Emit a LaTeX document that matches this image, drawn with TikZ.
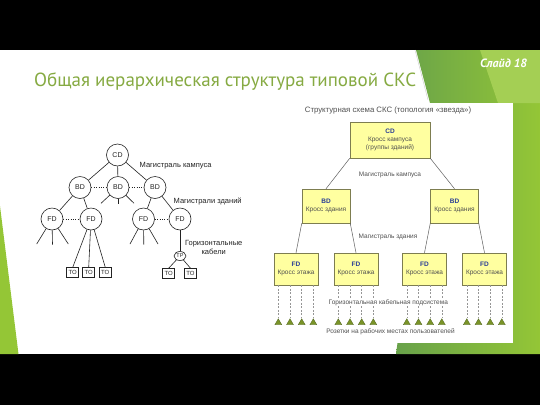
\documentclass[tikz,border=0pt]{standalone}
\usepackage{fontspec}
\setmainfont{Liberation Sans}
\newfontfamily\titlefont{PT Sans}
\usetikzlibrary{shapes.geometric}

\definecolor{tgreen}{RGB}{134,170,66}
\definecolor{dkgreen}{RGB}{104,162,74}
\definecolor{ltgreen}{RGB}{148,198,54}
\definecolor{boxfill}{RGB}{255,255,160}
\definecolor{boxline}{RGB}{125,125,80}
\definecolor{navy}{RGB}{40,60,150}
\definecolor{lbl}{RGB}{80,80,80}
\definecolor{tri}{RGB}{122,148,40}
\definecolor{tridk}{RGB}{80,100,30}
\definecolor{scan}{RGB}{35,35,35}
\definecolor{edgegray}{RGB}{95,95,95}
\definecolor{cablegray}{RGB}{150,150,150}

\begin{document}
\begin{tikzpicture}[x=1pt,y=-1pt,
  tnode/.style={circle, draw=scan, line width=0.6pt, minimum size=22pt, inner sep=0pt,
     font=\fontsize{7}{7}\selectfont, text=scan},
  tobox/.style={rectangle, draw=scan, line width=0.6pt, minimum width=12pt, minimum height=10pt,
     inner sep=0pt, font=\fontsize{6}{6}\selectfont, text=scan},
  tline/.style={draw=scan, line width=0.6pt},
  tdots/.style={draw=scan, line width=0.8pt, dash pattern=on 0.8pt off 1.6pt},
  tlabel/.style={font=\fontsize{7.5}{8.4}\selectfont, text=scan, inner sep=0pt},
  ybox/.style={rectangle, draw=boxline, fill=boxfill, line width=0.5pt, align=center,
     inner sep=0pt, font=\fontsize{6.5}{8}\selectfont, text=lbl},
  yedge/.style={draw=edgegray, line width=0.5pt},
  cable/.style={draw=cablegray, line width=0.5pt, dash pattern=on 2pt off 1.5pt},
  sock/.style={regular polygon, regular polygon sides=3, minimum size=8pt, inner sep=0pt,
     fill=tri, draw=tridk, line width=0.3pt},
  rlabel/.style={font=\fontsize{6.5}{7}\selectfont, text=lbl, inner sep=0.5pt}
]
\useasboundingbox (0,0) rectangle (540,405);
% slide background
\fill[white] (0,50) rectangle (540,354);
\fill[black] (0,0) rectangle (540,50);
\fill[black] (0,354) rectangle (540,405);
% green decoration
\shade[left color=dkgreen, right color=ltgreen] (416,50) -- (540,50) -- (540,354) -- (396,354) -- (430,103) -- cycle;
\fill[ltgreen!85!white] (480,50) -- (540,50) -- (540,103) -- (498,103) -- cycle;
\draw[gray!40, line width=0.4pt] (415,50) -- (428,100);
\fill[ltgreen] (0,206) -- (18.5,354) -- (0,354) -- cycle;
% white panel of right diagram
\fill[white] (268,103) rectangle (513,342.5);

% title
\node[anchor=base west, inner sep=0pt, text=tgreen, font=\titlefont\fontsize{19}{20}\selectfont]
  (title) at (34,86.5) {Общая иерархическая структура типовой СКС};
\node[anchor=base west, inner sep=0pt, text=white, font=\titlefont\bfseries\itshape\fontsize{12}{12}\selectfont]
  (slide) at (480,67.3) {Слайд 18};

% ---------------- left tree ----------------
\node[tnode] (cd) at (117.5,155) {CD};
\node[tnode] (bd1) at (80,187.5) {BD};
\node[tnode] (bd2) at (118,187.5) {BD};
\node[tnode] (bd3) at (155,187.5) {BD};
\node[tnode] (fda) at (52,219) {FD};
\node[tnode] (fdb) at (91,219) {FD};
\node[tnode] (fdc) at (143.5,219) {FD};
\node[tnode] (fdd) at (180,219) {FD};
\node[ellipse, draw=scan, line width=0.6pt, minimum width=12pt, minimum height=9pt, inner sep=0pt,
  font=\fontsize{5.5}{5.5}\selectfont, text=scan] (tp) at (180,256) {TP};
\node[tobox] (toa) at (72.7,272.7) {TO};
\node[tobox] (tob) at (88.7,272.7) {TO};
\node[tobox] (toc) at (105.3,272.7) {TO};
\node[tobox] (tod) at (168.7,273.5) {TO};
\node[tobox] (toe) at (190.5,273.5) {TO};

\draw[tline] (cd) -- (bd1);
\draw[tline] (cd) -- (bd2);
\draw[tline] (cd) -- (bd3);
\draw[tline] (bd1) -- (fda);
\draw[tline] (bd1) -- (fdb);
\draw[tline] (bd3) -- (fdc);
\draw[tline] (bd3) -- (fdd);
\draw[tdots] (bd1.east) -- (bd2.west);
\draw[tdots] (bd2.east) -- (bd3.west);
\draw[tdots] (fda.east) -- (fdb.west);
\draw[tdots] (fdc.east) -- (fdd.west);
\draw[tline] (fdb) -- (toa.north);
\draw[tline] (fdb) -- (tob.north);
\draw[tline] (fdb) -- (toc.north);
\draw[tline] (fdd) -- (tp);
\draw[tline] (tp) -- (tod.north);
\draw[tline] (tp) -- (toe.north);
% stubs
\coordinate (sa1) at (36.7,244); \coordinate (sa2) at (52.5,244.5); \coordinate (sa3) at (68.3,244);
\coordinate (sb1) at (101,203.3); \coordinate (sb2) at (118,204); \coordinate (sb3) at (134,203.3);
\coordinate (sc1) at (130,244); \coordinate (sc2) at (143.8,244.5); \coordinate (sc3) at (158,244);
\foreach \s in {sa1,sa2,sa3} \draw[tline] (fda) -- (\s);
\foreach \s in {sb1,sb2,sb3} \draw[tline] (bd2) -- (\s);
\foreach \s in {sc1,sc2,sc3} \draw[tline] (fdc) -- (\s);

\node[tlabel, anchor=west] (lk) at (139.5,166) {Магистраль кампуса};
\node[tlabel, anchor=west] (lz) at (173.5,201) {Магистрали зданий};
\node[tlabel, align=center] (lh) at (213.7,247.5) {Горизонтальные\\кабели};

% ---------------- right diagram ----------------
\node[rlabel, font=\fontsize{7.8}{8}\selectfont] (rt) at (388,110) {Структурная схема СКС (топология «звезда»)};

\node[ybox, minimum width=80pt, minimum height=36pt] (rcd) at (390,140)
  {{\color{navy}\bfseries CD}\\Кросс кампуса\\(группы зданий)};
\node[ybox, minimum width=48pt, minimum height=34pt] (rbd1) at (326,206)
  {{\color{navy}\bfseries BD}\\Кросс здания};
\node[ybox, minimum width=48pt, minimum height=34pt] (rbd2) at (454.5,206)
  {{\color{navy}\bfseries BD}\\Кросс здания};
\foreach \n/\x in {rfd1/296,rfd2/356,rfd3/424.5,rfd4/484.5}
  \node[ybox, minimum width=44pt, minimum height=32pt] (\n) at (\x,269)
    {{\color{navy}\bfseries FD}\\Кросс этажа};

\draw[yedge] (rcd.south west) -- (rbd1.north);
\draw[yedge] (rcd.south east) -- (rbd2.north);
\draw[yedge] (rbd1.south west) -- (rfd1.north);
\draw[yedge] (rbd1.south east) -- (rfd2.north);
\draw[yedge] (rbd2.south west) -- (rfd3.north);
\draw[yedge] (rbd2.south east) -- (rfd4.north);

\node[rlabel] (rmk) at (390,175) {Магистраль кампуса};
\node[rlabel] (rmz) at (388,237) {Магистраль здания};

% sockets and cables
\foreach \f in {1,2,3,4}{
  \foreach \k/\dx in {1/-17.7,2/-6,3/5.7,4/17.3}{
    \path (rfd\f.south) ++(\dx,0) coordinate (tmp);
    \node[sock] (s\f\k) at (tmp |- 0,322.7) {};
    \draw[cable] (s\f\k.corner 1 |- rfd\f.south) -- (s\f\k.corner 1);
  }
}
\node[rlabel, fill=white] (rh) at (388.3,302.3) {Горизонтальная кабельная подсистема};
\node[rlabel] (rr) at (390.5,331.7) {Розетки на рабочих местах пользователей};
\end{tikzpicture}
\end{document}
